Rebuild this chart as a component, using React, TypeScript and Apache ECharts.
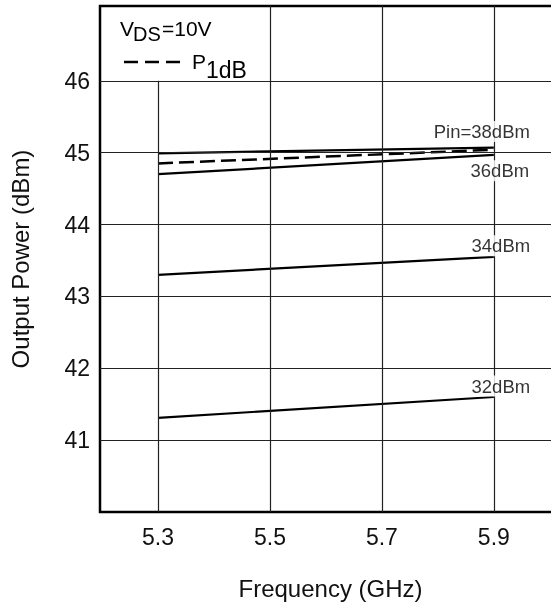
import React, { useEffect, useRef } from "react";
import * as echarts from "echarts";

const FONT = "'Liberation Sans', Arial, Helvetica, sans-serif";

// Data
const freqs = [5.3, 5.9];
const pin38 = [44.99, 45.07];
const p1dB = [44.85, 45.04];
const pin36 = [44.7, 44.97];
const pin34 = [43.3, 43.55];
const pin32 = [41.31, 41.6];
const curveLabels = ["Pin=38dBm", "36dBm", "34dBm", "32dBm"];
const xTicks = [5.3, 5.5, 5.7, 5.9];
const yTicks = [41, 42, 43, 44, 45, 46];

const X_MIN = 5.1964;
const X_MAX = 6.02;
const Y_MIN = 40;
const Y_MAX = 47.04;

export default function App() {
  const ref = useRef<HTMLDivElement>(null);
  useEffect(() => {
    if (!ref.current) return;
    const chart = echarts.init(ref.current, null, { renderer: "svg" });

    const toPts = (ys: number[]) => freqs.map((f, i) => [f, ys[i]]);
    const solid = (name: string, ys: number[]) => ({
      name,
      type: "line",
      data: toPts(ys),
      symbol: "none",
      z: 3,
      lineStyle: { color: "#000", width: 2.2 },
    });

    const gridLines: any[] = [];
    yTicks.forEach((v) =>
      gridLines.push([{ coord: [X_MIN, v] }, { coord: [X_MAX, v] }])
    );
    xTicks.forEach((v, i) =>
      gridLines.push([
        { coord: [v, Y_MIN] },
        { coord: [v, i === 0 ? yTicks[yTicks.length - 1] : Y_MAX] },
      ])
    );

    const labelEnds = [pin38, pin36, pin34, pin32];
    const labelOffsets = [
      [-12, -16],
      [6, 16],
      [7, -11],
      [7, -11],
    ];
    const labelData = curveLabels.map((t, i) => ({
      value: [freqs[1], labelEnds[i][1]],
      label: {
        show: true,
        position: "inside",
        formatter: t,
        offset: labelOffsets[i],
      },
    }));

    const txt = (text: string, x: number, y: number, size: number) => ({
      type: "text",
      x,
      y,
      z: 10,
      style: { text, fontSize: size, fontFamily: FONT, fill: "#000", verticalAlign: "top" },
    });

    const option: any = {
      animation: false,
      grid: {
        left: 100,
        top: 6,
        width: 461,
        height: 506,
        show: true,
        borderColor: "#000",
        borderWidth: 2.5,
        backgroundColor: "#fff",
        containLabel: false,
        outerBoundsMode: "none",
      },
      xAxis: {
        type: "value",
        min: X_MIN,
        max: X_MAX,
        axisLine: { show: false },
        axisTick: { show: false },
        splitLine: { show: false },
        axisLabel: {
          customValues: xTicks,
          fontSize: 23,
          color: "#111",
          fontFamily: FONT,
          margin: 13,
          formatter: (v: number) => v.toFixed(1),
        },
        name: "Frequency (GHz)",
        nameLocation: "middle",
        nameGap: 64,
        nameTextStyle: { fontSize: 24, color: "#111", fontFamily: FONT },
      },
      yAxis: {
        type: "value",
        min: Y_MIN,
        max: Y_MAX,
        axisLine: { show: false },
        axisTick: { show: false },
        splitLine: { show: false },
        axisLabel: {
          customValues: yTicks,
          fontSize: 23,
          color: "#111",
          fontFamily: FONT,
          margin: 10,
        },
        name: "Output Power (dBm)",
        nameLocation: "middle",
        nameGap: 68,
        nameTextStyle: { fontSize: 24, color: "#111", fontFamily: FONT },
      },
      series: [
        {
          name: "grid",
          type: "line",
          data: [[xTicks[0], Y_MIN]],
          symbol: "none",
          z: 1,
          silent: true,
          markLine: {
            silent: true,
            symbol: ["none", "none"],
            label: { show: false },
            lineStyle: { color: "#222", width: 1.2, type: "solid" },
            data: gridLines,
          },
        },
        solid("Pin=38dBm", pin38),
        {
          name: "P1dB",
          type: "line",
          data: toPts(p1dB),
          symbol: "none",
          z: 3,
          lineStyle: { color: "#000", width: 2.5, type: [15, 6] },
        },
        solid("36dBm", pin36),
        solid("34dBm", pin34),
        solid("32dBm", pin32),
        {
          name: "labels",
          type: "scatter",
          data: labelData,
          symbolSize: 1,
          itemStyle: { color: "rgba(0,0,0,0)" },
          z: 5,
          label: {
            fontSize: 18.5,
            color: "#000",
            fontFamily: FONT,
            backgroundColor: "#fff",
            padding: [1, 2],
          },
        },
      ],
      graphic: [
        txt("V", 120, 18, 21),
        txt("DS", 133, 24, 20),
        txt("=10V", 162, 18, 21),
        { type: "line", z: 10, shape: { x1: 124, y1: 62, x2: 180, y2: 62 }, style: { stroke: "#000", lineWidth: 2.5, lineDash: [14, 7] } },
        txt("P", 192, 51, 21),
        txt("1dB", 206, 58, 23),
      ],
    };
    chart.setOption(option);
    return () => chart.dispose();
  }, []);
  return (
    <div
      ref={ref}
      style={{ position: "fixed", left: 0, top: 0, width: 551, height: 605 }}
    />
  );
}
